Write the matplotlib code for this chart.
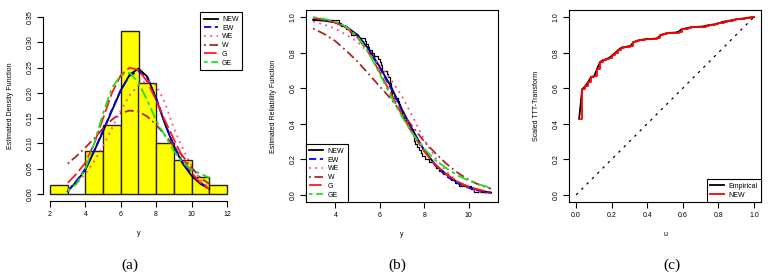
import numpy as np
import matplotlib
matplotlib.use("Agg")
import matplotlib.pyplot as plt

plt.rcParams['font.family'] = ['Liberation Sans', 'DejaVu Sans']

# sample (sorted), read back from the histogram, the step function and the TTT plot
data = [2.98,
        4.15, 4.27, 4.46, 4.67, 4.70,
        5.03, 5.33, 5.40, 5.45, 5.52, 5.63, 5.76, 5.90,
        6.02, 6.05, 6.08, 6.11, 6.32, 6.39, 6.45, 6.47, 6.50, 6.51, 6.52,
        6.53, 6.57, 6.80, 6.87, 6.93, 6.96, 6.98, 6.99,
        7.07, 7.28, 7.35, 7.42, 7.48, 7.52, 7.54, 7.56, 7.58, 7.68, 7.78,
        7.84, 7.90,
        8.05, 8.23, 8.42, 8.54, 8.68, 8.83,
        9.07, 9.20, 9.37, 9.57,
        10.10, 10.25,
        11.07]
bins = [2, 3, 4, 5, 6, 7, 8, 9, 10, 11, 12]

# fitted curves evaluated on y = 3, 3.5, ..., 11
ygrid = [3.0, 3.5, 4.0, 4.5, 5.0, 5.5, 6.0, 6.5, 7.0, 7.5, 8.0, 8.5, 9.0, 9.5,
         10.0, 10.5, 11.0]
models = ['NEW', 'EW', 'WE', 'W', 'G', 'GE']

pdf_new = [0.005, 0.025, 0.048, 0.085, 0.124, 0.165, 0.205, 0.236, 0.248, 0.232,
           0.188, 0.138, 0.094, 0.060, 0.036, 0.020, 0.010]
pdf_ew = [0.006, 0.026, 0.050, 0.086, 0.126, 0.167, 0.206, 0.234, 0.243, 0.229,
          0.190, 0.140, 0.096, 0.062, 0.038, 0.022, 0.011]
pdf_we = [0.009, 0.020, 0.040, 0.065, 0.095, 0.130, 0.165, 0.195, 0.215, 0.225,
          0.215, 0.180, 0.130, 0.090, 0.055, 0.028, 0.012]
pdf_w = [0.060, 0.075, 0.092, 0.110, 0.130, 0.147, 0.160, 0.165, 0.163, 0.153,
         0.137, 0.116, 0.095, 0.075, 0.052, 0.032, 0.020]
pdf_g = [0.022, 0.040, 0.062, 0.100, 0.150, 0.200, 0.235, 0.250, 0.245, 0.222,
         0.185, 0.145, 0.108, 0.072, 0.042, 0.022, 0.010]
pdf_ge = [0.005, 0.020, 0.050, 0.100, 0.160, 0.210, 0.235, 0.240, 0.220, 0.185,
          0.145, 0.115, 0.085, 0.062, 0.048, 0.040, 0.032]

rel_new = [0.985, 0.980, 0.970, 0.945, 0.900, 0.820, 0.720, 0.610, 0.480, 0.360,
           0.250, 0.170, 0.115, 0.070, 0.045, 0.025, 0.012]
rel_ew = [0.995, 0.985, 0.970, 0.945, 0.895, 0.815, 0.715, 0.600, 0.475, 0.355,
          0.250, 0.165, 0.105, 0.065, 0.040, 0.022, 0.012]
rel_we = [0.975, 0.958, 0.935, 0.900, 0.860, 0.800, 0.730, 0.650, 0.555, 0.435,
          0.310, 0.210, 0.130, 0.075, 0.035, 0.015, 0.005]
rel_w = [0.936, 0.905, 0.865, 0.810, 0.750, 0.680, 0.610, 0.540, 0.460, 0.380,
         0.300, 0.235, 0.175, 0.125, 0.085, 0.055, 0.035]
rel_g = [0.995, 0.985, 0.970, 0.940, 0.885, 0.800, 0.690, 0.570, 0.450, 0.340,
         0.245, 0.170, 0.115, 0.075, 0.045, 0.028, 0.016]
rel_ge = [1.000, 0.990, 0.975, 0.945, 0.890, 0.800, 0.680, 0.555, 0.440, 0.340,
          0.260, 0.195, 0.150, 0.110, 0.080, 0.058, 0.040]

colors = ['black', 'blue', '#ff4499', '#a52a2a', '#ff1a1a', '#22dd22']
styles = ['-', (0, (4, 2)), (0, (1, 2.5)), (0, (1, 2, 5, 2)), (0, (7, 2)),
          (0, (2, 2, 6, 2))]

fs = 5
W, H = 774, 277
fig = plt.figure(figsize=(W / 100, H / 100), dpi=100)
leg_kw = dict(fontsize=fs, fancybox=False, edgecolor='black', framealpha=1,
              handlelength=2.0, labelspacing=0.25, borderpad=0.5,
              handletextpad=0.6)


def px_axes(x0, x1, y0, y1):
    return fig.add_axes([x0 / W, 1 - y1 / H, (x1 - x0) / W, (y1 - y0) / H])


def style_ax(ax):
    ax.tick_params(length=4, width=0.8, labelsize=fs, pad=3, direction='out')
    for lab in ax.get_yticklabels():
        lab.set_rotation(90)
        lab.set_va('center')


y = np.array(data)
n = len(y)

# (a) histogram + densities -------------
ax = px_axes(43, 234, 10, 201)
ax.hist(y, bins=bins, density=True, color='#ffff00', edgecolor='#222222', lw=1.0)
pdfs = [pdf_new, pdf_ew, pdf_we, pdf_w, pdf_g, pdf_ge]
for m, p, c, ls in zip(models, pdfs, colors, styles):
    ax.plot(ygrid, p, color=c, ls=ls, lw=1.3, label=m)
ax.set_xlim(1.6, 12.4)
ax.set_ylim(-0.014, 0.364)
yt = [0.00, 0.05, 0.10, 0.15, 0.20, 0.25, 0.30, 0.35]
ax.set_xticks([2, 4, 6, 8, 10, 12])
ax.set_yticks(yt)
ax.set_yticklabels(['%.2f' % v for v in yt])
for s in ['top', 'right']:
    ax.spines[s].set_visible(False)
ax.spines['bottom'].set_bounds(2, 12)
ax.spines['left'].set_bounds(0, 0.35)
style_ax(ax)
ax.set_xlabel('y', fontsize=fs, labelpad=9)
ax.set_ylabel('Estimated Density Function', fontsize=fs, labelpad=9)
leg = ax.legend(loc='upper left', bbox_to_anchor=(197 / W, 1 - 9 / H),
                bbox_transform=fig.transFigure, **leg_kw)
leg.get_frame().set_linewidth(0.8)

# (b) reliability -------------
ax = px_axes(306, 498, 10, 202)
xs = np.concatenate([[3.0], y[(y > 3) & (y < 11)], [11.0]])
surv = 1 - np.searchsorted(y, xs, side='right') / n
ax.step(xs, surv, where='post', color='black', lw=0.9)
rels = [rel_new, rel_ew, rel_we, rel_w, rel_g, rel_ge]
for m, rr, c, ls in zip(models, rels, colors, styles):
    ax.plot(ygrid, rr, color=c, ls=ls, lw=1.3, label=m)
ax.set_xlim(2.68, 11.32)
ax.set_ylim(-0.04, 1.04)
ax.set_xticks([4, 6, 8, 10])
ax.set_yticks([0, 0.2, 0.4, 0.6, 0.8, 1.0])
style_ax(ax)
ax.set_xlabel('y', fontsize=fs, labelpad=9)
ax.set_ylabel('Estimated Reliability Function', fontsize=fs, labelpad=9)
leg = ax.legend(loc='lower left', bbox_to_anchor=(0, 0), borderaxespad=0,
                **leg_kw)
leg.get_frame().set_linewidth(0.8)

# (c) scaled TTT -------------
ax = px_axes(569, 761, 10, 202)
r = np.arange(1, n + 1)
u = r / n
ttt = (np.cumsum(y) + (n - r) * y) / y.sum()
ax.plot([0, 1], [0, 1], color='black', ls=(0, (2, 4)), lw=0.9)
ax.plot(u, ttt, color='black', lw=1.3, label='Empirical')
ax.step(u, ttt, where='post', color='red', lw=1.3, label='NEW')
ax.set_xlim(-0.04, 1.04)
ax.set_ylim(-0.04, 1.04)
ax.set_xticks([0, 0.2, 0.4, 0.6, 0.8, 1.0])
ax.set_yticks([0, 0.2, 0.4, 0.6, 0.8, 1.0])
style_ax(ax)
ax.set_xlabel('u', fontsize=fs, labelpad=9)
ax.set_ylabel('Scaled TTT-Transform', fontsize=fs, labelpad=9)
leg = ax.legend(loc='lower right', bbox_to_anchor=(1, 0), borderaxespad=0,
                **leg_kw)
leg.get_frame().set_linewidth(0.8)

# captions
for xc, t in [(130, '(a)'), (397, '(b)'), (672, '(c)')]:
    fig.text(xc / W, 1 - 265 / H, t, ha='center', va='center', fontsize=11,
             family='Liberation Serif')

fig.savefig('out.png', dpi=100)
